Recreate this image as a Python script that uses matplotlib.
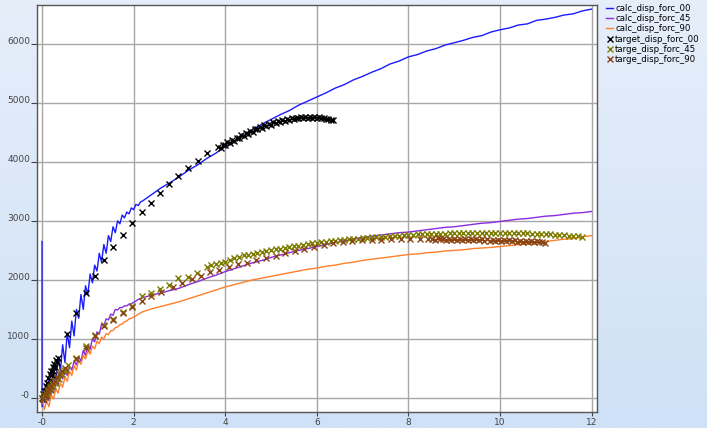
#!/usr/bin/env python3

import numpy as np
import matplotlib.pyplot as plt
from matplotlib.colors import LinearSegmentedColormap

# ---- calculated curves (displacement, force) ----
calc_x_early = [0.0, 0.0, 0.05, 0.10, 0.15, 0.20, 0.25, 0.30, 0.35, 0.40, 0.45,
                0.50, 0.55, 0.60, 0.65, 0.70, 0.75, 0.80, 0.85, 0.90, 0.95,
                1.00, 1.05, 1.10, 1.15, 1.20, 1.25, 1.30, 1.35, 1.40, 1.45,
                1.50, 1.55, 1.60, 1.65, 1.70, 1.75, 1.80, 1.85, 1.90, 1.95,
                2.00, 2.05, 2.10, 2.15, 2.20]
calc_x_late = [2.4, 2.6, 2.8, 3.0, 3.2, 3.4, 3.6, 3.8, 4.0, 4.2, 4.4, 4.6, 4.8,
               5.0, 5.2, 5.4, 5.6, 5.8, 6.0, 6.2, 6.4, 6.6, 6.8, 7.0, 7.2, 7.4,
               7.6, 7.8, 8.0, 8.2, 8.4, 8.6, 8.8, 9.0, 9.2, 9.4, 9.6, 9.8, 10.0,
               10.2, 10.4, 10.6, 10.8, 11.0, 11.2, 11.4, 11.6, 11.8, 12.0]
calc_x = calc_x_early + calc_x_late

calc_00 = [2650, -150, 150, -50, 300, 100, 500, 250, 700, 450, 900,
           600, 1100, 850, 1300, 1050, 1500, 1350, 1750, 1500, 1900,
           1750, 2100, 1950, 2250, 2150, 2450, 2300, 2600, 2450, 2750,
           2650, 2900, 2800, 3000, 2950, 3100, 3050, 3150, 3120, 3220,
           3190, 3280, 3260, 3320, 3340,
           3450, 3560, 3650, 3750, 3860, 3950, 4060, 4150, 4260, 4350, 4440,
           4550, 4640, 4720, 4800, 4870, 4960, 5030, 5100, 5170, 5250, 5310,
           5390, 5450, 5520, 5580, 5660, 5710, 5780, 5820, 5880, 5920, 5980,
           6020, 6060, 6110, 6140, 6200, 6240, 6270, 6320, 6340, 6400, 6420,
           6450, 6490, 6510, 6560, 6590]

calc_45 = [0, 0, -80, 50, -50, 150, 80, 280, 200, 400, 320,
           450, 380, 530, 470, 620, 560, 700, 620, 800, 720,
           900, 820, 1000, 950, 1120, 1080, 1250, 1220, 1340, 1320,
           1420, 1400, 1500, 1490, 1530, 1530, 1560, 1560, 1590, 1590,
           1620, 1640, 1670, 1680, 1700,
           1740, 1780, 1820, 1860, 1920, 1970, 2030, 2080, 2140, 2190, 2240,
           2290, 2330, 2380, 2420, 2460, 2500, 2530, 2565, 2600, 2630, 2660,
           2690, 2720, 2740, 2760, 2780, 2800, 2810, 2830, 2850, 2870, 2890,
           2900, 2920, 2940, 2960, 2970, 2990, 3010, 3030, 3040, 3060, 3080,
           3090, 3110, 3130, 3140, 3160]

calc_90 = [0, 0, -200, -50, -150, 50, -20, 150, 80, 250, 180,
           350, 280, 450, 380, 550, 470, 640, 570, 720, 660,
           800, 740, 880, 830, 960, 920, 1030, 1000, 1090, 1070,
           1140, 1140, 1190, 1200, 1240, 1250, 1290, 1300, 1340, 1350,
           1370, 1390, 1420, 1440, 1460,
           1510, 1550, 1590, 1630, 1680, 1730, 1780, 1830, 1880, 1920, 1960,
           2000, 2030, 2060, 2090, 2120, 2150, 2180, 2200, 2230, 2250, 2280,
           2300, 2330, 2350, 2370, 2390, 2410, 2430, 2440, 2460, 2470, 2490,
           2500, 2510, 2530, 2540, 2550, 2565, 2580, 2600, 2610, 2630, 2650,
           2670, 2690, 2700, 2730, 2750]

# ---- measured targets ----
t00_x = [0.00, 0.02, 0.03, 0.05, 0.06, 0.08, 0.09, 0.11, 0.12, 0.14, 0.15,
         0.17, 0.18, 0.20, 0.21, 0.23, 0.25, 0.27, 0.29, 0.31, 0.33, 0.35,
         0.54, 0.74, 0.96, 1.16, 1.36, 1.56, 1.77, 1.97, 2.18, 2.38, 2.58,
         2.78, 2.98, 3.19, 3.41, 3.61]
t00_y = [0, 60, -20, 120, 40, 200, 110, 260, 180, 330, 240,
         400, 310, 460, 380, 520, 450, 580, 520, 640, 600, 680,
         1080, 1435, 1775, 2070, 2330, 2550, 2760, 2960, 3150, 3310, 3470,
         3620, 3760, 3890, 4015, 4145]
t00_dense_y = [4260, 4240, 4290, 4280, 4330, 4320, 4370, 4360, 4410, 4400,
               4450, 4440, 4490, 4480, 4520, 4510, 4560, 4550, 4590, 4580,
               4620, 4610, 4640, 4630, 4670, 4660, 4690, 4680, 4710, 4700,
               4720, 4710, 4740, 4730, 4750, 4740, 4760, 4745, 4765, 4750,
               4765, 4750, 4765, 4750, 4760, 4740, 4750, 4730, 4735, 4710,
               4715]
t00_dense_x = np.arange(len(t00_dense_y)) * 0.05 + 3.85

t45_x = [0.02, 0.04, 0.06, 0.08, 0.10, 0.12, 0.14, 0.17, 0.19, 0.22, 0.24,
         0.27, 0.30, 0.33, 0.36, 0.40, 0.44, 0.48, 0.52, 0.56,
         0.75, 0.95, 1.16, 1.36, 1.56, 1.76, 1.97, 2.18, 2.38, 2.58, 2.78,
         2.98, 3.18, 3.38]
t45_y = [0, 40, 10, 90, 50, 140, 100, 190, 150, 240, 200,
         290, 260, 350, 320, 420, 400, 480, 470, 560,
         680, 880, 1060, 1230, 1340, 1450, 1560, 1720, 1770, 1840, 1910,
         2030, 2050, 2110]
t45_dense_y = [2225, 2250, 2270, 2290, 2310, 2340, 2370, 2395, 2420, 2430,
               2445, 2460, 2475, 2490, 2505, 2520, 2530, 2545, 2555, 2570,
               2580, 2595, 2605, 2620, 2630, 2635, 2645, 2655, 2660, 2670,
               2680, 2685, 2695, 2700, 2710, 2715, 2720, 2725, 2730, 2735,
               2740, 2745, 2750, 2755, 2760, 2765, 2770, 2770, 2775, 2780,
               2780, 2785, 2785, 2790, 2790, 2795, 2795, 2795, 2800, 2800,
               2800, 2800, 2800, 2800, 2800, 2800, 2795, 2795, 2795, 2790,
               2790, 2785, 2785, 2780, 2775, 2770, 2765, 2760, 2755, 2750,
               2745, 2740, 2730]
t45_dense_x = np.arange(len(t45_dense_y)) * 0.1 + 3.6

t90_x = [0.03, 0.06, 0.09, 0.12, 0.16, 0.20, 0.24, 0.28, 0.33, 0.38, 0.44,
         0.50, 0.75, 0.95, 1.16, 1.36, 1.56, 1.76, 1.97, 2.18, 2.37, 2.59,
         2.85, 3.05, 3.27, 3.47, 3.67, 3.87, 4.08, 4.27, 4.47, 4.68, 4.89,
         5.10, 5.31, 5.52, 5.73, 5.94, 6.15, 6.36, 6.57, 6.78, 6.99, 7.20,
         7.41, 7.62, 7.83, 8.04, 8.25, 8.43]
t90_y = [-20, 30, 70, 110, 150, 200, 250, 290, 340, 400, 450,
         510, 660, 850, 1040, 1210, 1320, 1435, 1535, 1640, 1720, 1800,
         1880, 1940, 2010, 2070, 2125, 2170, 2225, 2265, 2290, 2330, 2370,
         2410, 2450, 2490, 2530, 2565, 2590, 2620, 2640, 2660, 2670, 2680,
         2680, 2685, 2690, 2690, 2690, 2690]
t90_dense_y = [2700, 2680, 2705, 2685, 2700, 2680, 2700, 2678, 2698, 2676,
               2696, 2674, 2694, 2672, 2692, 2670, 2690, 2668, 2688, 2666,
               2685, 2663, 2682, 2660, 2680, 2658, 2676, 2655, 2672, 2652,
               2668, 2648, 2664, 2645, 2660, 2642, 2656, 2640, 2652, 2636,
               2648, 2632]
t90_dense_x = np.arange(len(t90_dense_y)) * 0.06 + 8.52

x_ticks = [0, 2, 4, 6, 8, 10, 12]
y_ticks = [0, 1000, 2000, 3000, 4000, 5000, 6000]


def tick_label(v):
    return '-0' if v == 0 else str(v)


if __name__ == "__main__":
    fig = plt.figure(figsize=(7.07, 4.28), dpi=100)

    # light blue gradient background
    bg = fig.add_axes([0, 0, 1, 1], zorder=-10)
    grad = np.linspace(0, 1, 256).reshape(-1, 1)
    cmap = LinearSegmentedColormap.from_list('bg', ['#e6eefa', '#cfe1f6'])
    bg.imshow(grad, aspect='auto', cmap=cmap, extent=[0, 1, 0, 1])
    bg.axis('off')

    ax = fig.add_axes([37 / 707, 16 / 428, 560 / 707, 407 / 428])
    ax.set_facecolor('white')

    ax.plot(calc_x, calc_00, color='#1a1aff', lw=1.0, label='calc_disp_forc_00')
    ax.plot(calc_x, calc_45, color='#8a2be2', lw=1.0, label='calc_disp_forc_45')
    ax.plot(calc_x, calc_90, color='#ff7f2a', lw=1.0, label='calc_disp_forc_90')

    mk = dict(ls='none', marker='x', markersize=3.8, mew=1.0)
    ax.plot(list(t00_x) + list(t00_dense_x), t00_y + t00_dense_y,
            color='black', label='target_disp_forc_00', **mk)
    ax.plot(list(t45_x) + list(t45_dense_x), t45_y + t45_dense_y,
            color='#7d7d00', label='targe_disp_forc_45', **mk)
    ax.plot(list(t90_x) + list(t90_dense_x), t90_y + t90_dense_y,
            color='#8b4513', label='targe_disp_forc_90', **mk)

    ax.set_xlim(-0.11, 12.12)
    ax.set_ylim(-240, 6660)
    ax.set_xticks(x_ticks)
    ax.set_xticklabels([tick_label(v) for v in x_ticks])
    ax.set_yticks(y_ticks)
    ax.set_yticklabels([tick_label(v) for v in y_ticks], va='baseline')
    ax.tick_params(labelsize=6.5, colors='#444444', length=3, width=0.8)
    ax.tick_params(axis='x', pad=1)
    ax.tick_params(axis='y', pad=1, length=4)
    ax.grid(True, color='#a8a8a8', lw=1.0)
    ax.set_axisbelow(True)
    for s in ax.spines.values():
        s.set_color('#555555')
        s.set_linewidth(1.0)

    ax.legend(loc='upper left', bbox_to_anchor=(604 / 707, 1 - 2 / 428),
              bbox_transform=fig.transFigure, frameon=False, fontsize=6.2,
              handlelength=0.9, handletextpad=0.2, labelspacing=0.15,
              borderpad=0.2, borderaxespad=0)

    plt.savefig("out.png", dpi=100)
